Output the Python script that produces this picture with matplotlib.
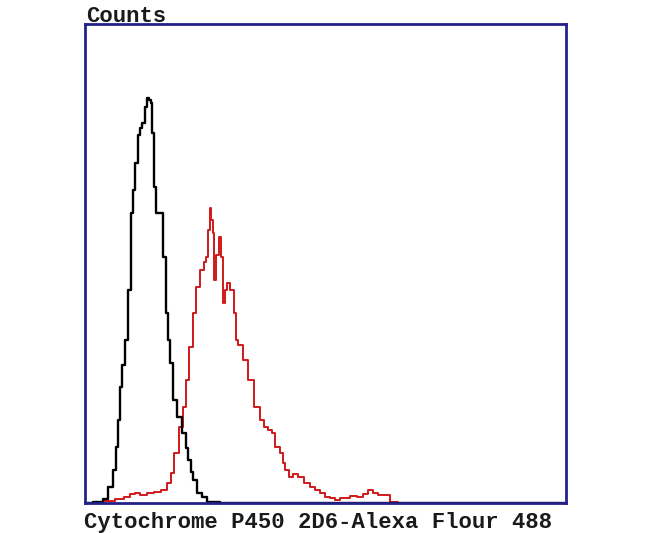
import matplotlib
matplotlib.use("Agg")
import matplotlib.pyplot as plt

# Histogram traces (channel, counts)
black_ch = [0, 15, 20, 26, 29, 32, 34, 36, 38, 41, 44, 47, 49, 51, 54, 56, 58, 61, 63, 65,
            66, 67, 70, 72, 76, 79, 82, 84, 86, 89, 94, 99, 102, 104, 107, 109, 114, 119, 125, 145, 481]
black_cnt = [0, 1, 4, 16, 33, 56, 83, 116, 138, 163, 213, 290, 313, 340, 368, 375, 380, 396, 405, 403,
             400, 370, 316, 290, 290, 246, 190, 163, 140, 103, 86, 70, 55, 43, 31, 23, 10, 6, 1, 0, 0]

red_ch = [10, 25, 35, 42, 47, 52, 58, 66, 72, 79, 84, 87, 91, 96, 99, 102, 106, 109, 112, 117,
          120, 122, 124, 125, 127, 128, 130, 132, 135, 137, 139, 141, 143, 147, 150, 151, 155, 160, 165, 172,
          177, 180, 185, 188, 192, 197, 198, 202, 205, 210, 215, 222, 227, 232, 237, 242, 247, 252, 257, 262,
          268, 275, 280, 285, 290, 295, 302, 308, 318, 345]
red_cnt = [0, 2, 4, 6, 9, 10, 8, 10, 11, 13, 20, 30, 50, 76, 96, 123, 156, 190, 216, 233,
           241, 246, 273, 295, 283, 270, 223, 248, 266, 246, 200, 213, 220, 213, 190, 163, 158, 143, 123, 96,
           83, 76, 73, 70, 56, 50, 40, 33, 26, 29, 26, 20, 16, 13, 10, 6, 5, 3, 5, 5,
           7, 6, 9, 13, 10, 8, 8, 1, 0, 0]

fig = plt.figure(figsize=(6.5, 5.33), dpi=100)
ax = fig.add_axes([85 / 650, 30 / 533, 481 / 650, 479 / 533])

ax.plot(red_ch, red_cnt, color="#d01818", lw=1.4, drawstyle="steps-mid")
ax.plot(black_ch, black_cnt, color="black", lw=1.7, drawstyle="steps-mid")

ax.set_xlim(0, 481)
ax.set_ylim(0, 479)
ax.set_xticks([])
ax.set_yticks([])
for s in ax.spines.values():
    s.set_color("#22228a")
    s.set_linewidth(2)

font = dict(family=["Liberation Mono", "DejaVu Sans Mono"], fontweight="bold", fontsize=16, color="#1a1a1a")
fig.text(86 / 650, 1 - 22 / 533, "Counts", **font)
fig.text(84 / 650, 1 - 528 / 533, "Cytochrome P450 2D6-Alexa Flour 488", **font)

fig.savefig("out.png", dpi=100, facecolor="white")
